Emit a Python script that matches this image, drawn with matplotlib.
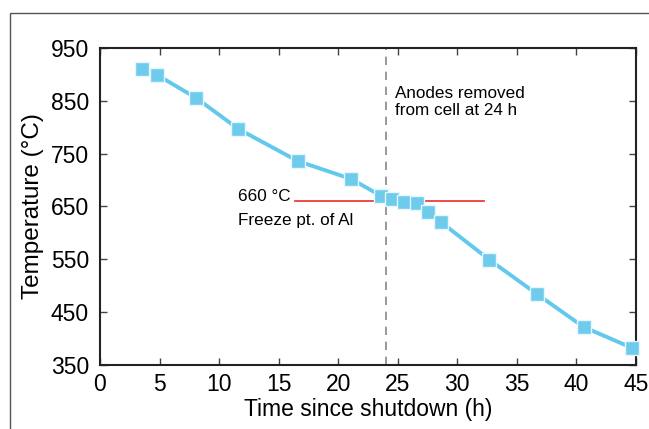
import matplotlib
matplotlib.use("Agg")
import matplotlib.pyplot as plt
from matplotlib.patches import Rectangle

plt.rcParams['font.family'] = ['Liberation Sans', 'DejaVu Sans']

time_h = [3.5, 4.8, 8.1, 11.6, 16.6, 21.1, 23.6, 24.5, 25.5, 26.6, 27.5, 28.6, 32.7, 36.7, 40.6, 44.7]
temp_c = [910, 899, 855, 797, 736, 702, 670, 664, 658, 657, 640, 621, 549, 484, 422, 382]

freeze_temp = 660
freeze_span = [16.4, 32.2]
anode_time = 24

x_ticks = [0, 5, 10, 15, 20, 25, 30, 35, 40, 45]
y_ticks = [350, 450, 550, 650, 750, 850, 950]

fig = plt.figure(figsize=(6.49, 4.29), dpi=100)
fig.patches.append(Rectangle((10/649, -0.1), 1.2, 1 - 13/429 + 0.1, transform=fig.transFigure,
                             fill=False, edgecolor='#555555', linewidth=1.0))
ax = fig.add_axes([100/649, 1 - 365/429, 536/649, 317/429])

ax.plot(freeze_span, [freeze_temp, freeze_temp], color='#e8403a', linewidth=1.3, zorder=1)
ax.axvline(anode_time, color='#888888', linewidth=1.2, linestyle=(0, (5, 4)), zorder=1)
ax.plot(time_h, temp_c, color='#62c8ec', linewidth=2.8, marker='s', markersize=10,
        markerfacecolor='#6ecbec', markeredgecolor='#e6f6fc', markeredgewidth=1.0, zorder=3,
        clip_on=False)

ax.set_xlim(0, 45)
ax.set_ylim(350, 950)
ax.set_xticks(x_ticks)
ax.set_yticks(y_ticks)
ax.tick_params(direction='in', length=5, width=1, top=True, right=True,
               labelsize=16.5, color='#444444')
ax.tick_params(axis='x', pad=6)
ax.tick_params(axis='y', pad=8)
for s in ax.spines.values():
    s.set_linewidth(1.5)
    s.set_color('#222222')

ax.set_xlabel('Time since shutdown (h)', fontsize=16.5, labelpad=1)
ax.set_ylabel('Temperature (°C)', fontsize=17.5, labelpad=5)

ax.text(11.55, 668, '660 °C', fontsize=12.3, va='center', ha='left')
ax.text(11.55, 624, 'Freeze pt. of Al', fontsize=12.3, va='center', ha='left')
ax.text(24.8, 848, 'Anodes removed\nfrom cell at 24 h', fontsize=12.3, va='center', ha='left',
        linespacing=1.2)

fig.savefig('out.png', dpi=100)
